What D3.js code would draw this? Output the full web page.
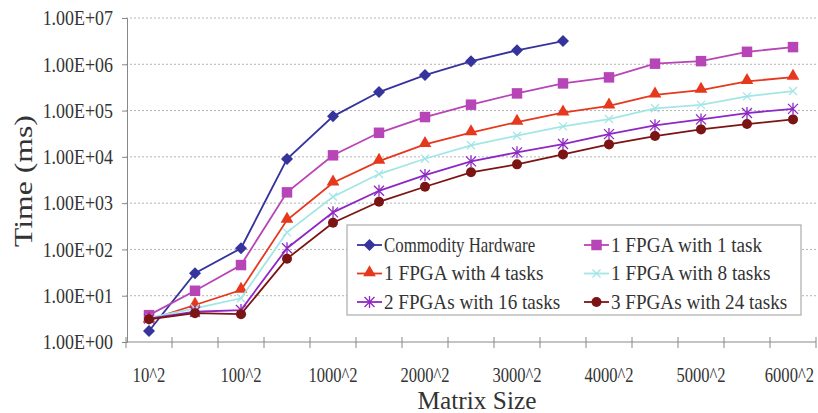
<!DOCTYPE html>
<html>
<head>
<meta charset="utf-8">
<script src="https://cdn.jsdelivr.net/npm/d3@7"></script>
<style>
  html, body { margin: 0; padding: 0; background: #fff; }
  svg { display: block; }
  text { font-family: "Liberation Serif", "DejaVu Serif", serif; fill: #333; }
</style>
</head>
<body>
<svg id="chart" width="818" height="413"></svg>
<script>
// ---- data ----
const categories = ["10^2","50^2","100^2","500^2","1000^2","1500^2","2000^2","2500^2","3000^2","3500^2","4000^2","4500^2","5000^2","5500^2","6000^2"];
const xTickLabels = ["10^2","100^2","1000^2","2000^2","3000^2","4000^2","5000^2","6000^2"];
const yTickValues = [1, 10, 100, 1000, 10000, 100000, 1000000, 10000000];
const yTickLabels = ["1.00E+00","1.00E+01","1.00E+02","1.00E+03","1.00E+04","1.00E+05","1.00E+06","1.00E+07"];

const seriesNames = ["Commodity Hardware","1 FPGA with 1 task","1 FPGA with 4 tasks","1 FPGA with 8 tasks","2 FPGAs with 16 tasks","3 FPGAs with 24 tasks"];
const commodity = [1.73, 30.5, 106, 8950, 75000, 251000, 585000, 1160000, 2000000, 3170000];
const fpga1task = [3.8, 12.8, 46, 1710, 10800, 33100, 72400, 134000, 235000, 386000, 521000, 1030000, 1170000, 1860000, 2350000];
const fpga4tasks = [3.0, 6.3, 13.3, 431, 2760, 8110, 18600, 33500, 56500, 89800, 127000, 219000, 277000, 427000, 529000];
const fpga8tasks = [3.3, 5.3, 8.8, 234, 1375, 4250, 9100, 17800, 28600, 45600, 65500, 112000, 133000, 203000, 264000];
const fpga16tasks = [3.2, 4.5, 4.9, 106, 632, 1850, 4040, 8000, 12500, 18900, 31000, 47900, 64500, 88300, 109000];
const fpga24tasks = [3.1, 4.2, 4.0, 63, 377, 1070, 2260, 4630, 6880, 11300, 18600, 28100, 39200, 51100, 64500];

const seriesValues = [commodity, fpga1task, fpga4tasks, fpga8tasks, fpga16tasks, fpga24tasks];
const seriesColors = ["#35339c", "#b845b8", "#e5381c", "#a3e6e6", "#8e28c4", "#7c1414"];
const seriesMarkers = ["diamond", "square", "triangle", "x", "asterisk", "circle"];

// ---- layout ----
const svg = d3.select("#chart");
const plotLeft = 126, plotRight = 816, plotTop = 18, plotBottom = 342;
const CH = 8.4; // monospace-like char advance

const x = d3.scaleBand().domain(categories).range([plotLeft, plotRight]).padding(0);
const y = d3.scaleLog().domain([1, 1e7]).range([plotBottom, plotTop]);
const cx = c => x(c) + x.bandwidth() / 2;

// squeeze text horizontally to a target width using a transform
function squeeze(sel, widthFn) {
  sel.each(function(d, i) {
    const w = this.getComputedTextLength();
    const target = widthFn(d, i, this);
    const tx = +this.getAttribute("x") || 0;
    const ty = +this.getAttribute("y") || 0;
    const pre = this.getAttribute("transform") || "";
    this.setAttribute("x", 0);
    this.setAttribute("y", 0);
    this.setAttribute("transform", `${pre} translate(${tx},${ty}) scale(${target / w},1)`);
  });
}

// gridlines
svg.append("g").selectAll("line")
  .data(yTickValues.filter(v => v > 1))
  .join("line")
  .attr("x1", plotLeft).attr("x2", plotRight)
  .attr("y1", d => y(d)).attr("y2", d => y(d))
  .attr("stroke", "#b4b4b4").attr("stroke-width", 1)
  .attr("stroke-dasharray", "2,2");

// y axis
const yAxis = d3.axisLeft(y).tickValues(yTickValues)
  .tickFormat((d, i) => yTickLabels[i]).tickSize(5).tickPadding(9);
const gy = svg.append("g").attr("transform", `translate(${plotLeft + 1},0)`).call(yAxis);
gy.select(".domain").attr("stroke", "#888");
gy.selectAll(".tick line").attr("stroke", "#888");
gy.selectAll(".tick text")
  .attr("font-size", 21).attr("fill", "#333")
  .attr("font-family", "Liberation Serif");
squeeze(gy.selectAll(".tick text"), d => yTickLabels[yTickValues.indexOf(d)].length * 8.8);

// x axis line
svg.append("line").attr("x1", plotLeft).attr("x2", plotRight)
  .attr("y1", plotBottom).attr("y2", plotBottom).attr("stroke", "#888");
// x boundary ticks
const bounds = categories.map(c => x(c)).concat([plotRight]);
svg.append("g").selectAll("line").data(bounds).join("line")
  .attr("x1", d => d).attr("x2", d => d)
  .attr("y1", plotBottom - 5).attr("y2", plotBottom + 6)
  .attr("stroke", "#888");
// x tick labels
const xCH = 8.2;
const xt = svg.append("g").selectAll("text").data(xTickLabels).join("text")
  .attr("x", d => Math.min(cx(d), 814 - d.length * xCH / 2))
  .attr("y", 381.5)
  .attr("text-anchor", "middle").attr("font-size", 22)
  .text(d => d);
squeeze(xt, d => d.length * xCH);

// axis titles
const xTitle = svg.append("text").attr("x", 477).attr("y", 409)
  .attr("text-anchor", "middle").attr("font-size", 25)
  .text("Matrix Size");
squeeze(xTitle, () => 119);
const yTitle = svg.append("text").attr("transform", "translate(32,181) rotate(-90)")
  .attr("text-anchor", "middle").attr("font-size", 25)
  .text("Time (ms)");
squeeze(yTitle, () => 132);

// marker drawing
function drawMarker(g, type, color) {
  if (type === "diamond") {
    g.append("path").attr("d", d3.symbol(d3.symbolSquare, 72)())
      .attr("transform", "rotate(45)").attr("fill", color);
  } else if (type === "square") {
    g.append("path").attr("d", d3.symbol(d3.symbolSquare, 110)()).attr("fill", color);
  } else if (type === "triangle") {
    g.append("path").attr("d", d3.symbol(d3.symbolTriangle, 70)())
      .attr("transform", "translate(0,-1)").attr("fill", color);
  } else if (type === "circle") {
    g.append("circle").attr("r", 5).attr("fill", color);
  } else if (type === "x") {
    g.append("path").attr("d", "M-4,-4L4,4M-4,4L4,-4")
      .attr("stroke", color).attr("stroke-width", 1.3).attr("fill", "none");
  } else if (type === "asterisk") {
    g.append("path").attr("d", "M-5,-5L5,5M-5,5L5,-5M0,-6L0,6")
      .attr("stroke", color).attr("stroke-width", 1.3).attr("fill", "none");
  }
}

// series
const line = d3.line().x(d => d[0]).y(d => d[1]);
const plot = svg.append("g");
seriesValues.forEach((vals, si) => {
  const pts = vals.map((v, i) => [cx(categories[i]), y(v)]);
  const g = plot.append("g");
  g.append("path").attr("d", line(pts)).attr("fill", "none")
    .attr("stroke", seriesColors[si]).attr("stroke-width", 1.8);
  pts.forEach(p => {
    const m = g.append("g").attr("transform", `translate(${p[0]},${p[1]})`);
    drawMarker(m, seriesMarkers[si], seriesColors[si]);
  });
});

// legend
const lg = svg.append("g");
lg.append("rect").attr("x", 347).attr("y", 225).attr("width", 454).attr("height", 90)
  .attr("fill", "#fff").attr("stroke", "#9a9a9a").attr("stroke-width", 1);
const colX = [357, 584];
const rowY = [245, 273.5, 302];
seriesNames.forEach((name, i) => {
  const col = i % 2, row = Math.floor(i / 2);
  const lx = colX[col], ly = rowY[row];
  lg.append("line").attr("x1", lx).attr("x2", lx + 25).attr("y1", ly).attr("y2", ly)
    .attr("stroke", seriesColors[i]).attr("stroke-width", 1.8);
  const m = lg.append("g").attr("transform", `translate(${lx + 12.5},${ly})`);
  drawMarker(m, seriesMarkers[i], seriesColors[i]);
  const t = lg.append("text").attr("x", lx + 27).attr("y", ly + 6.5)
    .attr("font-size", 20)
    .text(name);
  squeeze(t, () => name.length * CH);
});
</script>
</body>
</html>
